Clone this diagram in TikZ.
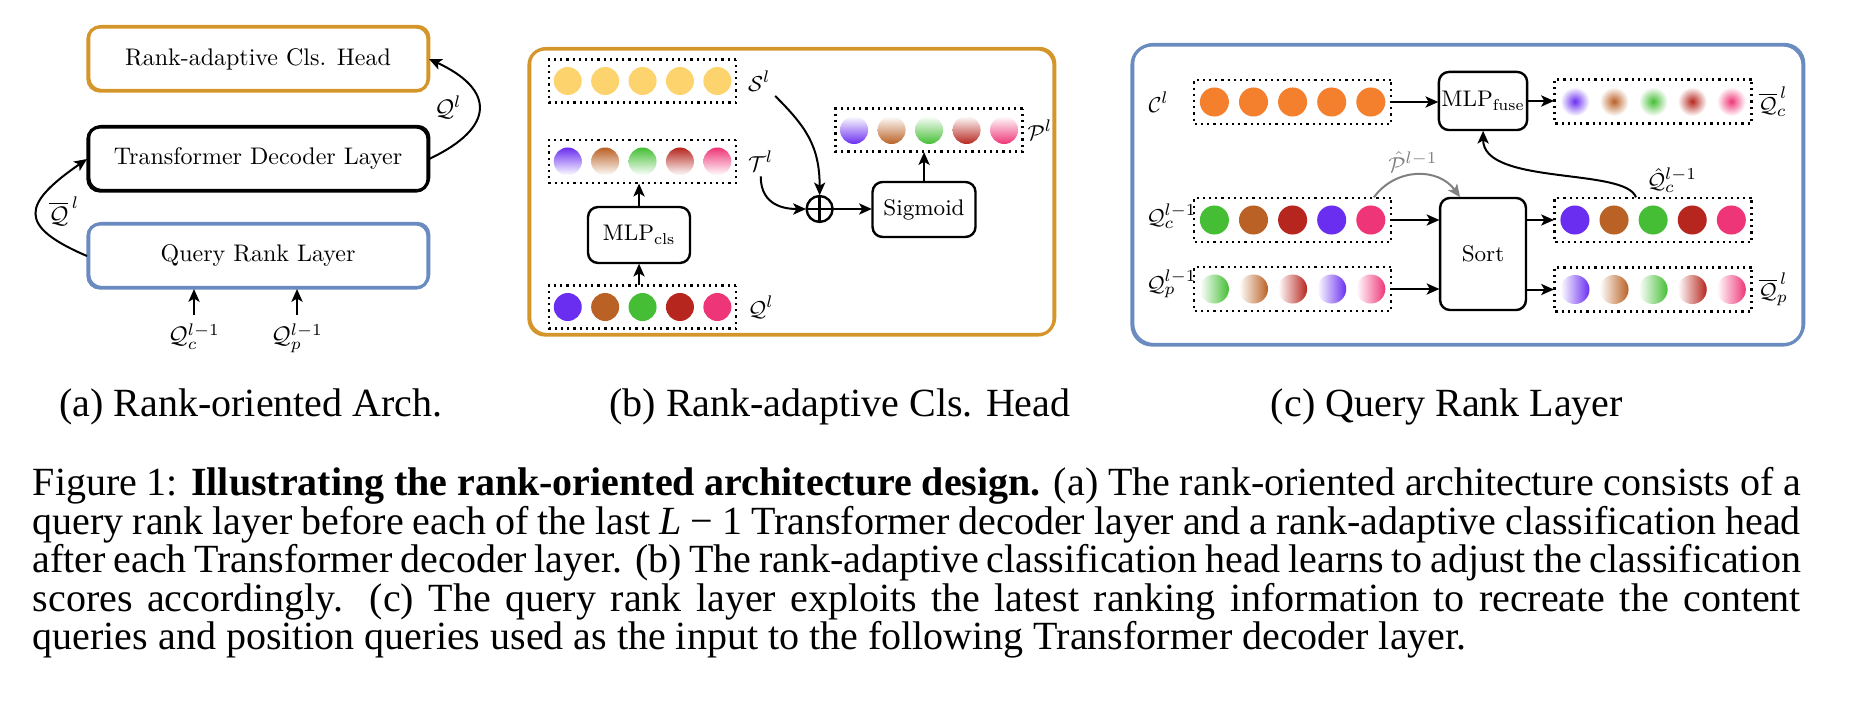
\documentclass[tikz,border=0pt]{standalone}
\usepackage{fontspec}
\newfontfamily\capfont{Liberation Serif}
\usetikzlibrary{positioning, arrows, arrows.meta, calc}

\definecolor{qpurple}{RGB}{106,46,240}
\definecolor{qbrown}{RGB}{186,97,37}
\definecolor{qgreen}{RGB}{69,190,53}
\definecolor{qred}{RGB}{182,38,30}
\definecolor{qpink}{RGB}{238,53,119}
\definecolor{syellow}{RGB}{253,211,110}
\definecolor{corange}{RGB}{244,127,44}
\definecolor{headgold}{RGB}{212,150,42}
\definecolor{rankblue}{RGB}{106,139,191}

\begin{document}
\begin{tikzpicture}[x=0.25pt, y=0.25pt, >={Stealth[length=3.2pt, width=2.8pt, inset=0.8pt]},
		every node/.style={font=\fontsize{10}{12}\selectfont},
		sketch/.style={postaction={draw, line width=0.35pt, transform canvas={xshift=0.4pt, yshift=0.35pt}}},
		blk/.style={draw, sketch, rounded corners=3pt, line width=0.8pt, minimum width=141.7pt, minimum height=26.7pt},
		op/.style={draw, rounded corners=2.5pt, line width=0.6pt},
		row/.style={draw, densely dotted, line width=0.55pt, minimum width=77.9pt, minimum height=17.9pt, inner sep=0pt},
		dot/.style={circle, minimum size=11.67pt, inner sep=0pt},
		lab/.style={inner sep=1.67pt},
		arr/.style={->, line width=0.5pt},
		sub/.style={font=\capfont\fontsize{10}{12}\selectfont, anchor=base}]
	\useasboundingbox (0,0) rectangle (1854,-702);
	
	% frames of (b) and (c)
	\draw[sketch, line width=0.8pt, draw=headgold, rounded corners=4pt] (529,-49) rectangle (1054,-335);
	\draw[sketch, line width=0.8pt, draw=rankblue, rounded corners=5pt] (1132,-45) rectangle (1803,-345);
	
	\begin{scope}[scale=0.6, transform shape, x=0.416667pt, y=0.416667pt]
	% (a) architecture
	\node[blk, draw=headgold] (head) at (258,-59) {Rank-adaptive Cls. Head};
	\node[blk] (dec) at (258,-159) {Transformer Decoder Layer};
	\node[blk, draw=rankblue] (qrl) at (258,-256) {Query Rank Layer};
	\node[anchor=north] (qcin) at (194,-315) {$\mathcal{Q}_c^{l-1}$};
	\node[anchor=north] (qpin) at (297,-315) {$\mathcal{Q}_p^{l-1}$};
	\node (qbar) at (64,-211) {$\overline{\mathcal{Q}}^{\,l}$};
	\node (qout) at (448,-107) {$\mathcal{Q}^l$};
	
	\draw[arr] (qcin.north) -- (qcin.north |- qrl.south);
	\draw[arr] (qpin.north) -- (qpin.north |- qrl.south);
	\draw[arr] (qrl.west) .. controls +(-70,30) and +(-65,-45) .. (dec.west);
	\draw[arr] (dec.east) .. controls +(68,32) and +(65,-30) .. (head.east);
	
	\begin{scope}[every node/.append style={font=\fontsize{9.4}{11}\selectfont}]
	% (b) cls head
	\node[row] (srow) at (642.5,-81) {};
	\node[row] (trow) at (642.5,-161.5) {};
	\node[row] (qrow) at (642.5,-307) {};
	\node[row] (prow) at (929,-130) {};
	\foreach \c [count=\i] in {qpurple,qbrown,qgreen,qred,qpink} {
		\node[dot, fill=syellow] (s\i) at ($(srow)+(\i*37.4-112.2,0)$) {};
		\node[dot, top color=\c, bottom color=white] (t\i) at ($(trow)+(\i*37.4-112.2,0)$) {};
		\node[dot, fill=\c] (q\i) at ($(qrow)+(\i*37.4-112.2,0)$) {};
		\node[dot, top color=white, bottom color=\c] (p\i) at ($(prow)+(\i*37.5-112.5,0)$) {};
	}
	\node[lab, right=2.9pt of srow] (slab) {$\mathcal{S}^l$};
	\node[lab, right=2.9pt of trow] (tlab) {$\mathcal{T}^l$};
	\node[lab, right=2.9pt of qrow] (qlab) {$\mathcal{Q}^l$};
	\node[lab, right=0pt of prow] (plab) {$\mathcal{P}^l$};
	
	\node[op, minimum width=42.5pt, minimum height=23.3pt] (mlpc) at (639,-235) {MLP$_\mathrm{cls}$};
	\node[circle, draw, line width=0.6pt, minimum size=10.8pt, inner sep=0pt,
		path picture={\draw[line width=0.6pt] (path picture bounding box.north) -- (path picture bounding box.south)
			(path picture bounding box.west) -- (path picture bounding box.east);}] (add) at (819.6,-209) {};
	\node[op, minimum width=42.9pt, minimum height=22.9pt] (sig) at (924,-209.5) {Sigmoid};
	
	\path[arr]
	(mlpc.south |- qrow.north) edge (mlpc.south)
	(mlpc.north) edge (mlpc.north |- trow.south)
	(add.east) edge (add.east -| sig.west)
	(sig.north) edge (sig.north |- prow.south);
	\draw[arr] (slab.south east) .. controls +(30,-30) and +(0,50) .. (add.north);
	\draw[arr] (tlab.south) .. controls +(0,-30) and +(-20,0) .. (add.west);
	
	% (c) query rank layer
	\begin{scope}[row/.append style={minimum width=82.1pt, minimum height=18.3pt}, dot/.append style={minimum size=12.1pt}]
		\node[row] (crow) at (1292.5,-102) {};
		\node[row] (qcrow) at (1292.5,-220) {};
		\node[row] (qprow) at (1292.5,-289) {};
		\node[row] (qbcrow) at (1653,-101.5) {};
		\node[row] (qhrow) at (1653,-220) {};
		\node[row] (qbprow) at (1653,-289.5) {};
		\foreach \a/\b [count=\i] in {qgreen/qpurple, qbrown/qbrown, qred/qgreen, qpurple/qred, qpink/qpink} {
			\node[dot, fill=corange] (c\i) at ($(crow)+(\i*39.1-117.3,0)$) {};
			\node[dot, fill=\a] (qc\i) at ($(qcrow)+(\i*39.1-117.3,0)$) {};
			\node[dot, left color=white, right color=\a] (qp\i) at ($(qprow)+(\i*39.1-117.3,0)$) {};
			\node[dot, inner color=\b, outer color=white] (qbc\i) at ($(qbcrow)+(\i*39.1-117.3,0)$) {};
			\node[dot, fill=\b] (qh\i) at ($(qhrow)+(\i*39.1-117.3,0)$) {};
			\node[dot, left color=white, right color=\b] (qbp\i) at ($(qbprow)+(\i*39.1-117.3,0)$) {};
		}
	\end{scope}
	\node[lab, anchor=west] (clab) at (1144,-102) {$\mathcal{C}^l$};
	\node[lab, anchor=west] (qclab) at (1142,-216) {$\mathcal{Q}_c^{l-1}$};
	\node[lab, anchor=west] (qplab) at (1142,-284) {$\mathcal{Q}_p^{l-1}$};
	\node[lab, right=0.8pt of qbcrow] (qbclab) {$\overline{\mathcal{Q}}_c^{\,l}$};
	\node[lab, right=0.8pt of qbprow] (qbplab) {$\overline{\mathcal{Q}}_p^{\,l}$};
	\node[lab] (qhlab) at (1672,-180) {$\hat{\mathcal{Q}}_c^{l-1}$};
	\node[lab, text=gray] (phlab) at (1413,-162) {$\hat{\mathcal{P}}^{l-1}$};
	
	\node[op, minimum width=35.8pt, minimum height=24.2pt, inner sep=1pt] (mlpf) at (1483,-101) {MLP$_\mathrm{fuse}$};
	\node[op, minimum width=35.8pt, minimum height=46.7pt] (sort) at (1483,-254) {Sort};
	
	\path[arr]
	(crow.east) edge (crow.east -| mlpf.west)
	(mlpf.east) edge (mlpf.east -| qbcrow.west)
	(qcrow.east) edge (qcrow.east -| sort.west)
	(qprow.east) edge (qprow.east -| sort.west)
	(sort.east |- qhrow) edge (qhrow.west)
	(sort.east |- qbprow) edge (qbprow.west);
	\draw[arr, gray] ($(qcrow.north east)+(-18,0)$) .. controls +(22,30) and +(-22,30) .. ($(sort.north)+(-23,0)$);
	\draw[arr] ($(qhrow.north west)+(82,0)$) .. controls +(-10,30) and +(0,-55) .. (mlpf.south);
	\end{scope}
	\end{scope}
	
	% captions
	\node[sub] (capa) at (251,-417) {(a) Rank-oriented Arch.};
	\node[sub] (capb) at (840,-417) {(b) Rank-adaptive Cls. Head};
	\node[sub] (capc) at (1447,-417) {(c) Query Rank Layer};
	\node[anchor=base west, inner sep=0pt] (cap) at (32,-496) {\parbox[t]{442pt}{\capfont\fontsize{10}{9.6}\selectfont
		\makebox[\linewidth][s]{Figure 1: \textbf{Illustrating the rank-oriented architecture design.} (a) The rank-oriented architecture consists of a}\\
		\makebox[\linewidth][s]{query rank layer before each of the last \textit{L} − 1 Transformer decoder layer and a rank-adaptive classification head}\\
		\makebox[\linewidth][s]{after each Transformer decoder layer. (b) The rank-adaptive classification head learns to adjust the classification}\\
		\makebox[\linewidth][s]{scores accordingly. (c) The query rank layer exploits the latest ranking information to recreate the content}\\
		queries and position queries used as the input to the following Transformer decoder layer.}};
\end{tikzpicture}
\end{document}
